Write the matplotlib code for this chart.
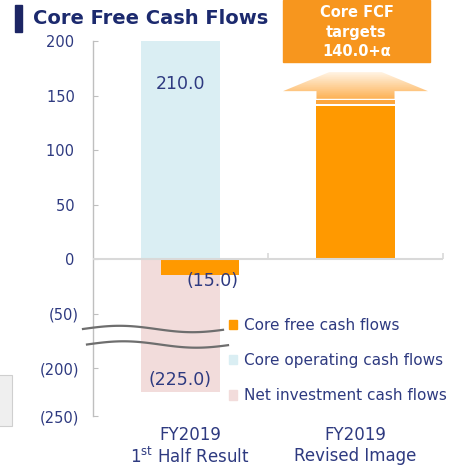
import numpy as np
import matplotlib
matplotlib.use("Agg")
import matplotlib.pyplot as plt
from matplotlib.patches import Rectangle, Polygon, Patch
from matplotlib.transforms import ScaledTranslation

# values (billion yen)
categories = ["FY2019\n1$^{\\rm st}$ Half Result", "FY2019\nRevised Image"]
core_fcf = [-15.0, 140.0]
core_operating = [210.0]      # only for the first half result
net_investment = [-225.0]     # only for the first half result
yticks = [200, 150, 100, 50, 0, -50, -200, -250]
legend_labels = ["Core free cash flows", "Core operating cash flows",
                 "Net investment cash flows"]

NAVY = "#2E3A80"
ORANGE = "#FF9900"
BLUE = "#DAEEF3"
PINK = "#F2DCDB"

W, H = 459, 466


def px(x, y):
    """pixel position (from top-left) -> figure fraction"""
    return x / W, 1 - y / H


def fmt(v):
    return "({:.1f})".format(-v) if v < 0 else "{:.1f}".format(v)


def tick_fmt(v):
    return "({:d})".format(-v) if v < 0 else "{:d} ".format(v)


# broken axis: compress the range between -50 and -200
_xs = [-1e4, -250, -200, -50, 1e4]
_ys = [-144 - 0.88 * (1e4 - 250), -144, -100, -50, 1e4]


def fwd(v):
    return np.interp(v, _xs, _ys)


def inv(v):
    return np.interp(v, _ys, _xs)


fig = plt.figure(figsize=(W / 100, H / 100), dpi=100)
x0, y0 = px(93, 416)
x1, y1 = px(443, 41)
ax = fig.add_axes([x0, y0, x1 - x0, y1 - y0])
ax.set_facecolor("none")
ax.set_yscale("function", functions=(fwd, inv))
ax.set_ylim(-250, 200)
ax.set_xlim(-0.5, 1.5)

bw = 0.446
off = 0.11  # orange bar sits right of the stacked pair in the first column

ax.bar([0], core_operating, bw, color=BLUE, zorder=2)
ax.bar([0], net_investment, bw, color=PINK, zorder=2)
ax.bar([0 + off, 1], core_fcf, bw, color=ORANGE, zorder=3)

# value labels
ax.annotate(fmt(core_operating[0]), (0, min(core_operating[0], 200)),
            xytext=(0, -31), textcoords="offset points", ha="center",
            va="center", fontsize=12.5, color=NAVY, zorder=5)
ax.annotate(fmt(core_fcf[0]), (off, core_fcf[0]), xytext=(9, -4),
            textcoords="offset points", ha="center", va="center",
            fontsize=12.5, color=NAVY, zorder=5)
ax.annotate(fmt(net_investment[0]), (0, net_investment[0]), xytext=(0, 9),
            textcoords="offset points", ha="center", va="center",
            fontsize=12.5, color=NAVY, zorder=5)

# arrow above the target bar
top = core_fcf[1]
ax.add_patch(Rectangle((1 - bw / 2, top + 2.5), bw, 3.0, color="#FDA63C",
                       lw=0, zorder=3))
arrow = Polygon([(1 - bw / 2, top + 7), (1 + bw / 2, top + 7),
                 (1 + bw / 2, top + 14), (1.414, top + 14),
                 (1.15, top + 31.5), (0.85, top + 31.5),
                 (0.586, top + 14), (1 - bw / 2, top + 14)],
                closed=True, facecolor="none", edgecolor="none", zorder=3)
ax.add_patch(arrow)
c_top = np.array(matplotlib.colors.to_rgb("#FFF3E3"))
c_bot = np.array(matplotlib.colors.to_rgb("#FDB257"))
n = 40
for i in range(n):
    ya = top + 7 + (31.5 - 7) * i / n
    t = i / (n - 1)
    band = Rectangle((0.5, ya), 1.0, (31.5 - 7) / n + 0.05,
                     color=c_bot * (1 - t) + c_top * t, lw=0, zorder=3)
    ax.add_patch(band)
    band.set_clip_path(arrow)

# axes styling
for s in ["top", "right", "bottom"]:
    ax.spines[s].set_visible(False)
ax.spines["left"].set_color("#BFBFBF")
ax.spines["left"].set_linewidth(1.0)
ax.set_yticks(yticks, [tick_fmt(v) for v in yticks])
ax.tick_params(axis="y", direction="in", length=3.6, color="#BFBFBF",
               labelcolor=NAVY, labelsize=10.5, pad=10)
ax.axhline(0, color="#D9D9D9", lw=1.5, zorder=4)
ax.vlines([0.5, 1.5], 0, 5.5, color="#D9D9D9", lw=1.2, zorder=4,
          clip_on=False)

ax.set_xticks([0, 1], categories)
ax.tick_params(axis="x", length=0, labelcolor=NAVY, labelsize=12, pad=7)
first = ax.get_xticklabels()[0]
first.set_transform(first.get_transform() +
                    ScaledTranslation(9.5 / 100, 0, fig.dpi_scale_trans))

# legend
handles = [Patch(color=c) for c in (ORANGE, BLUE, PINK)]
ax.legend(handles, legend_labels, loc="upper left",
          bbox_to_anchor=px(229, 318), bbox_transform=fig.transFigure,
          frameon=False, fontsize=11, labelcolor=NAVY, handlelength=0.55,
          handleheight=0.55, handletextpad=0.4, labelspacing=1.32,
          borderpad=0, borderaxespad=0)

# break marks
for xa, xb, yc in [(83, 223, 329), (87, 228, 344.5)]:
    xs = np.linspace(xa, xb, 80)
    ys = yc - 3.2 * np.sin(2 * np.pi * (xs - xa) / 146)
    fig.add_artist(plt.Line2D(xs / W, 1 - ys / H, color="#6E6E6E", lw=1.6,
                              transform=fig.transFigure, zorder=6))

# title
fig.add_artist(Rectangle(px(15, 32), 7 / W, 27 / H, color="#1C2564",
                         transform=fig.transFigure))
fig.text(*px(33, 19), "Core Free Cash Flows", fontsize=14, weight="bold",
         color="#1C2A6E", va="center", ha="left")

# target box
fig.add_artist(Rectangle(px(283, 62), 147 / W, 62 / H, color="#F7961E",
                         transform=fig.transFigure))
fig.text(*px(356.5, 32), "Core FCF\ntargets\n{:.1f}+α".format(core_fcf[1]),
         fontsize=10.5, weight="bold", color="white", ha="center",
         va="center", linespacing=1.35)

# piece of the neighbouring slide on the left edge
fig.add_artist(Rectangle(px(-2, 426), 14 / W, 51 / H, facecolor="#EFEFEF",
                         edgecolor="#CFCFCF", lw=0.8,
                         transform=fig.transFigure))

fig.savefig("out.png", dpi=100)
